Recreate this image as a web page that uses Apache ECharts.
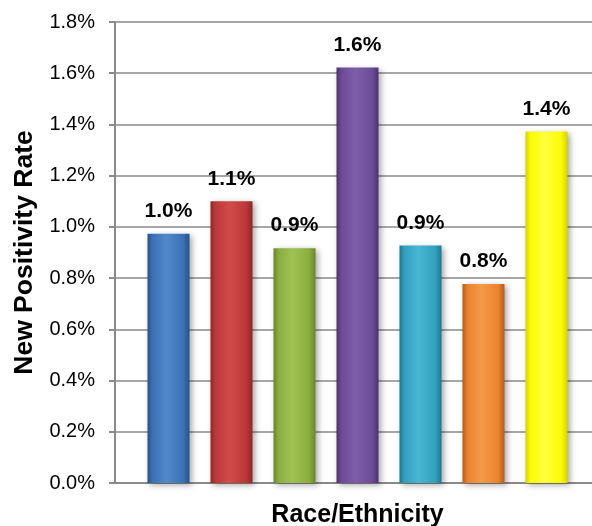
<!DOCTYPE html>
<html>
<head>
<meta charset="utf-8">
<script src="https://cdn.jsdelivr.net/npm/echarts@6/dist/echarts.min.js"></script>
<style>
  html, body { margin: 0; padding: 0; background: #fff; }
  #chart { width: 592px; height: 526px; }
</style>
</head>
<body>
<div id="chart"></div>
<script>
// Groups along the horizontal axis (names are not displayed)
const categories = ['Group 1', 'Group 2', 'Group 3', 'Group 4', 'Group 5', 'Group 6', 'Group 7'];
// New positivity rate per group, in percent
const rates = [0.973, 1.10, 0.917, 1.622, 0.927, 0.777, 1.372];
// Fill for each bar: [edge shade, body, highlight]
const barColors = [
  ['#27528c', '#3b71b6', '#5289cc'],
  ['#8c2726', '#bd3838', '#d04c4b'],
  ['#67862a', '#8aad3e', '#a0c252'],
  ['#4a3270', '#6c4b98', '#7e5eaa'],
  ['#1d7790', '#31a1c0', '#49b6d3'],
  ['#b25c18', '#ea832e', '#f59a48'],
  ['#d4d400', '#fbfb00', '#ffff40']
];
// Value-axis range and step
const yMin = 0, yMax = 1.8, yStep = 0.2;

const font = 'Liberation Sans, Arial, sans-serif';
const axisGray = '#8a8a8a';

function barFill(c) {
  return {
    type: 'linear', x: 0, y: 0, x2: 1, y2: 0,
    colorStops: [
      { offset: 0, color: c[0] },
      { offset: 0.12, color: c[1] },
      { offset: 0.45, color: c[2] },
      { offset: 0.85, color: c[1] },
      { offset: 1, color: c[0] }
    ]
  };
}

const chart = echarts.init(document.getElementById('chart'), null, { renderer: 'canvas' });
chart.setOption({
  animation: false,
  backgroundColor: '#fff',
  grid: [
    { left: 115, right: 0, top: 22, bottom: 43, outerBoundsMode: 'none', containLabel: false },
    { left: 137, right: 14, top: 22, bottom: 43, outerBoundsMode: 'none', containLabel: false }
  ],
  xAxis: [
    {
      gridIndex: 0, type: 'category', data: [''],
      axisLine: { show: true, lineStyle: { color: axisGray, width: 2 } },
      axisTick: { show: false }, axisLabel: { show: false }, splitLine: { show: false }
    },
    {
      gridIndex: 1, type: 'category', data: categories,
      axisLine: { show: false }, axisTick: { show: false }, axisLabel: { show: false },
      name: 'Race/Ethnicity', nameLocation: 'middle', nameGap: 20,
      nameTextStyle: { fontFamily: font, fontWeight: 'bold', fontSize: 25, color: '#000' }
    }
  ],
  yAxis: [
    {
      gridIndex: 0, type: 'value', min: yMin, max: yMax, interval: yStep,
      axisLine: { show: true, lineStyle: { color: axisGray, width: 2 } },
      axisTick: { show: true, length: 6, lineStyle: { color: axisGray, width: 2 } },
      axisLabel: {
        margin: 20, fontFamily: font, fontSize: 20, color: '#000',
        formatter: v => v.toFixed(1) + '%'
      },
      splitLine: { show: true, lineStyle: { color: axisGray, width: 1.5 } },
      name: 'New Positivity Rate', nameLocation: 'middle', nameRotate: 90, nameGap: 77,
      nameTextStyle: { fontFamily: font, fontWeight: 'bold', fontSize: 26.5, color: '#000' }
    },
    {
      gridIndex: 1, type: 'value', min: yMin, max: yMax, interval: yStep,
      show: false
    }
  ],
  series: [{
    type: 'bar',
    xAxisIndex: 1, yAxisIndex: 1,
    barWidth: 42,
    data: rates.map((v, i) => ({
      value: v,
      itemStyle: {
        color: barFill(barColors[i]),
        shadowBlur: 6, shadowColor: 'rgba(0,0,0,0.35)', shadowOffsetX: 2, shadowOffsetY: 2
      }
    })),
    label: {
      show: true, position: 'top', distance: 12,
      fontFamily: font, fontWeight: 'bold', fontSize: 21, color: '#000',
      formatter: p => p.value.toFixed(1) + '%'
    }
  }]
});
</script>
</body>
</html>
